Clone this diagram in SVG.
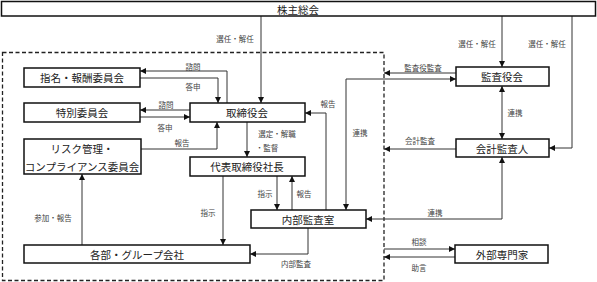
<svg xmlns="http://www.w3.org/2000/svg" width="597" height="282" viewBox="0 0 597 282">
<defs>
<style>
.box{fill:#fff;stroke:#111;stroke-width:1.5}
.nt{font-family:"Noto Sans CJK JP","Noto Sans CJK SC",sans-serif;font-size:10.5px;fill:#222;text-anchor:middle;dominant-baseline:central}
.lb{font-family:"Noto Sans CJK JP","Noto Sans CJK SC",sans-serif;font-size:7.5px;fill:#444;text-anchor:middle;dominant-baseline:central}
.ln{fill:none;stroke:#333;stroke-width:1}
.ar{marker-end:url(#ah)}
.ar2{marker-end:url(#ah);marker-start:url(#as)}
</style>
<marker id="ah" markerUnits="userSpaceOnUse" markerWidth="6" markerHeight="6" refX="6" refY="3" orient="auto"><path d="M0,0L6,3L0,6z" fill="#111"/></marker>
<marker id="as" markerUnits="userSpaceOnUse" markerWidth="6" markerHeight="6" refX="0" refY="3" orient="auto"><path d="M6,0L0,3L6,6z" fill="#111"/></marker>
</defs>
<rect x="2.5" y="52.5" width="381.5" height="228" fill="none" stroke="#222" stroke-width="1.3" stroke-dasharray="4,2.5"/>
<g id="connectors">
<path class="ln ar" d="M261,16V103"/>
<path class="ln ar" d="M502,16V67"/>
<path class="ln ar" d="M572,16V148H549"/>
<path class="ln ar" d="M227,103V71H140"/>
<path class="ln ar" d="M140,78H218V103"/>
<path class="ln ar" d="M190,110H140"/>
<path class="ln ar" d="M140,117H190"/>
<path class="ln ar" d="M141,149H217V122"/>
<path class="ln ar" d="M247,122V157"/>
<path class="ln ar" d="M277,176V210"/>
<path class="ln ar" d="M292,210V176"/>
<path class="ln ar" d="M223,176V245"/>
<path class="ln ar" d="M308,228V254H250"/>
<path class="ln ar" d="M82,245V174"/>
<path class="ln ar" d="M326,210V113H305"/>
<path class="ln ar2" d="M346,210V79H456"/>
<path class="ln ar" d="M456,73H384"/>
<path class="ln ar2" d="M502,86V139"/>
<path class="ln ar" d="M456,149H384"/>
<path class="ln ar2" d="M366,219H502V157"/>
<path class="ln ar" d="M384,249H455"/>
<path class="ln ar" d="M455,257H384"/>
<text class="lb" x="235" y="38">選任・解任</text>
<text class="lb" x="477" y="43">選任・解任</text>
<text class="lb" x="547" y="43">選任・解任</text>
<text class="lb" x="193" y="66">諮問</text>
<text class="lb" x="193" y="86">答申</text>
<text class="lb" x="166" y="104">諮問</text>
<text class="lb" x="165" y="127">答申</text>
<text class="lb" x="182" y="142">報告</text>
<text class="lb" x="277" y="133">選定・解職</text>
<text class="lb" x="267" y="147">・監督</text>
<text class="lb" x="328" y="103">報告</text>
<text class="lb" x="360" y="132">連携</text>
<text class="lb" x="423" y="67">監査役監査</text>
<text class="lb" x="420" y="140">会計監査</text>
<text class="lb" x="515" y="112">連携</text>
<text class="lb" x="435" y="212">連携</text>
<text class="lb" x="265" y="193">指示</text>
<text class="lb" x="304" y="193">報告</text>
<text class="lb" x="208" y="212">指示</text>
<text class="lb" x="296" y="263">内部監査</text>
<text class="lb" x="53" y="217">参加・報告</text>
<text class="lb" x="419" y="241">相談</text>
<text class="lb" x="419" y="267">助言</text>
</g>
<g id="n-shareholders"><rect class="box" x="1.5" y="1.5" width="594" height="14.5"/><text class="nt" x="298" y="9">株主総会</text></g>
<g id="n-nomination"><rect class="box" x="24" y="68" width="116" height="19"/><text class="nt" x="82" y="77.5">指名・報酬委員会</text></g>
<g id="n-special"><rect class="box" x="24" y="103" width="116" height="19"/><text class="nt" x="82" y="112.5">特別委員会</text></g>
<g id="n-risk"><rect class="box" x="24" y="139" width="117" height="35"/><text class="nt" x="82" y="148">リスク管理・</text><text class="nt" x="82" y="166">コンプライアンス委員会</text></g>
<g id="n-board"><rect class="box" x="190" y="103" width="115" height="19"/><text class="nt" x="247" y="112.5">取締役会</text></g>
<g id="n-president"><rect class="box" x="190" y="157" width="115" height="19"/><text class="nt" x="247" y="166.5">代表取締役社長</text></g>
<g id="n-internal-audit"><rect class="box" x="251" y="210" width="115" height="18"/><text class="nt" x="308" y="219">内部監査室</text></g>
<g id="n-departments"><rect class="box" x="24" y="245" width="226" height="18"/><text class="nt" x="137" y="254">各部・グループ会社</text></g>
<g id="n-auditors"><rect class="box" x="456" y="67" width="93" height="19"/><text class="nt" x="502" y="76.5">監査役会</text></g>
<g id="n-accounting"><rect class="box" x="456" y="139" width="93" height="18"/><text class="nt" x="502" y="148">会計監査人</text></g>
<g id="n-experts"><rect class="box" x="455" y="245" width="93" height="18"/><text class="nt" x="502" y="254">外部専門家</text></g>
</svg>
